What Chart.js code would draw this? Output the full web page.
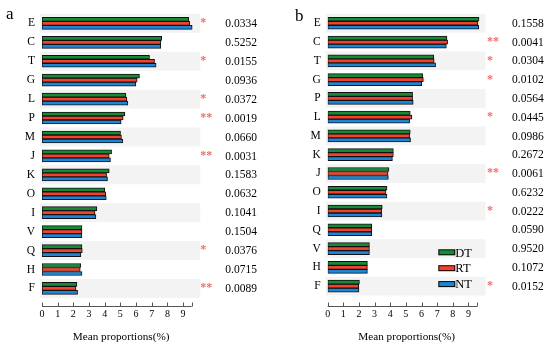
<!DOCTYPE html>
<html><head><meta charset="utf-8">
<script src="https://cdn.jsdelivr.net/npm/chart.js@4/dist/chart.umd.min.js"></script>
<style>
body{margin:0;background:#fff;width:550px;height:348px;overflow:hidden;position:relative}
canvas{position:absolute;top:0}
</style></head><body>
<canvas id="ca" width="275" height="348" style="left:0"></canvas>
<canvas id="cb" width="275" height="348" style="left:275px"></canvas>
<script>
// ---- Panel a data ----
const catsA  = ['E','C','T','G','L','P','M','J','K','O','I','V','Q','H','F'];
const dtA    = [9.36,7.64,6.86,6.22,5.35,5.29,5.01,4.44,4.29,4.01,3.50,2.55,2.55,2.48,2.23];
const rtA    = [9.43,7.58,7.18,6.07,5.41,5.18,5.07,4.29,4.12,4.06,3.38,2.55,2.57,2.44,2.17];
const ntA    = [9.58,7.58,7.28,5.99,5.48,5.05,5.16,4.37,4.18,4.10,3.44,2.55,2.48,2.55,2.27];
const pA     = ['0.0334','0.5252','0.0155','0.0936','0.0372','0.0019','0.0660','0.0031','0.1583','0.0632','0.1041','0.1504','0.0376','0.0715','0.0089'];
const starsA = ['*','','*','','*','**','','**','','','','','*','','**'];
// ---- Panel b data ----
const catsB  = ['E','C','T','G','P','L','M','K','J','O','I','Q','V','H','F'];
const dtB    = [9.68,7.63,6.79,6.08,5.43,5.28,5.28,4.20,3.92,3.79,3.49,2.82,2.67,2.54,2.03];
const rtB    = [9.61,7.67,6.81,6.12,5.43,5.39,5.24,4.20,3.86,3.73,3.45,2.82,2.67,2.54,1.98];
const ntB    = [9.66,7.59,6.90,6.01,5.47,5.24,5.30,4.14,3.88,3.79,3.47,2.82,2.67,2.54,2.00];
const pB     = ['0.1558','0.0041','0.0304','0.0102','0.0564','0.0445','0.0986','0.2672','0.0061','0.6232','0.0222','0.0590','0.9520','0.1072','0.0152'];
const starsB = ['','**','*','*','','*','','','**','','*','','','','*'];
// ---- shared ----
const seriesNames = ['DT','RT','NT'];
const xTicks = [0,1,2,3,4,5,6,7,8,9];
const xMax = 10.1;
const axisEnd = 9.55;

const FONT = "'Liberation Serif','Times New Roman',serif";
const COLORS = ['#168a36','#f4412e','#1c86d6'];

function makePanel(id, letter, cats, dt, rt, nt, pv, stars, geo, showLegend) {
  const W = 275, H = 348;
  const deco = {
    id: 'deco' + id,
    beforeDatasetsDraw(chart) {
      const {ctx, chartArea} = chart;
      const ys = chart.scales.y;
      const step = ys.getPixelForValue(1) - ys.getPixelForValue(0);
      ctx.save();
      ctx.fillStyle = '#f3f3f3';
      for (let i = 0; i < cats.length; i += 2) {
        const c = ys.getPixelForValue(i);
        ctx.fillRect(chartArea.left - 2, c - step / 2, chartArea.right - chartArea.left + 2, step);
      }
      ctx.restore();
    },
    afterDraw(chart) {
      const {ctx, chartArea} = chart;
      const xs = chart.scales.x, ys = chart.scales.y;
      ctx.save();
      // axis line with upward tick marks
      const ay = Math.round(chartArea.bottom + geo.axisOff) + 0.5;
      ctx.strokeStyle = '#555';
      ctx.lineWidth = 1;
      ctx.beginPath();
      const x0 = xs.getPixelForValue(0), x1 = xs.getPixelForValue(axisEnd);
      ctx.moveTo(x0, ay); ctx.lineTo(x1, ay);
      xTicks.concat([axisEnd]).forEach(v => {
        const px = Math.round(xs.getPixelForValue(v)) + 0.5;
        ctx.moveTo(px, ay); ctx.lineTo(px, ay - 4);
      });
      ctx.stroke();
      // stars and p-values
      for (let i = 0; i < cats.length; i++) {
        const c = ys.getPixelForValue(i);
        if (stars[i]) {
          ctx.fillStyle = '#f46a6a';
          ctx.font = 'bold 12px ' + FONT;
          ctx.textAlign = 'left';
          ctx.textBaseline = 'alphabetic';
          const m = ctx.measureText(stars[i]);
          const yc = c - 2.6 + (m.actualBoundingBoxAscent - m.actualBoundingBoxDescent) / 2;
          ctx.fillText(stars[i], chartArea.right + geo.starOff, yc);
        }
        ctx.fillStyle = '#000';
        ctx.font = '11.5px ' + FONT;
        ctx.textAlign = 'left';
        ctx.textBaseline = 'middle';
        ctx.fillText(pv[i], chartArea.right + geo.pOff, c + 0.6);
      }
      // panel letter
      ctx.fillStyle = '#000';
      ctx.font = '17px ' + FONT;
      ctx.textAlign = 'left';
      ctx.textBaseline = 'alphabetic';
      ctx.fillText(letter, geo.letterX, geo.letterY);
      // legend
      if (showLegend) {
        seriesNames.forEach((n, k) => {
          const cy = 252.3 + k * 15.9;
          const bx = 438.3 - 275;
          ctx.fillStyle = '#000';
          ctx.fillRect(bx, cy - 3, 17, 6);
          ctx.fillStyle = COLORS[k];
          ctx.fillRect(bx + 1, cy - 2, 15, 4);
          ctx.fillStyle = '#000';
          ctx.font = '12.5px ' + FONT;
          ctx.textAlign = 'left';
          ctx.textBaseline = 'middle';
          ctx.fillText(n, bx + 17, cy + 1);
        });
      }
      ctx.restore();
    }
  };
  const vals = [dt, rt, nt];
  return new Chart(document.getElementById(id), {
    type: 'bar',
    data: {
      labels: cats,
      datasets: seriesNames.map((n, k) => ({
        label: n, data: vals[k],
        backgroundColor: COLORS[k], borderColor: '#111', borderWidth: 1,
        borderSkipped: false, barThickness: 4
      }))
    },
    options: {
      indexAxis: 'y', responsive: false, animation: false, devicePixelRatio: 1,
      layout: { padding: { top: geo.top, right: W - geo.right, bottom: 0, left: 0 } },
      plugins: { legend: { display: false }, tooltip: { enabled: false } },
      scales: {
        x: {
          type: 'linear', min: 0, max: xMax,
          afterBuildTicks: s => { s.ticks = xTicks.map(v => ({ value: v })); },
          afterFit: s => { s.height = H - geo.bottom; },
          grid: { display: false, drawTicks: false },
          border: { display: false },
          ticks: { color: '#000', font: { family: FONT, size: 10 }, padding: geo.tickPad, maxRotation: 0 },
          title: { display: true, text: 'Mean proportions(%)', color: '#000',
                   font: { family: FONT, size: 11.2 }, padding: { top: 0, bottom: 4.3 } }
        },
        y: {
          type: 'category', offset: true,
          afterFit: s => { s.width = geo.left; },
          grid: { display: false, drawTicks: false },
          border: { display: false },
          ticks: { color: '#000', font: { family: FONT, size: 11.5 }, padding: 7 }
        }
      }
    },
    plugins: [deco]
  });
}

makePanel('ca', 'a', catsA, dtA, rtA, ntA, pA, starsA,
  { left: 42, right: 200.3, top: 9.6, bottom: 297.9, axisOff: 7.8, tickPad: 10.4,
    starOff: 0, pOff: 25, letterX: 6, letterY: 18.5 }, false);
makePanel('cb', 'b', catsB, dtB, rtB, ntB, pB, starsB,
  { left: 52.7, right: 210.6, top: 12.05, bottom: 295.5, axisOff: 10.2, tickPad: 12.8,
    starOff: 1.4, pOff: 26.4, letterX: 20, letterY: 20.5 }, true);
</script>
</body></html>
